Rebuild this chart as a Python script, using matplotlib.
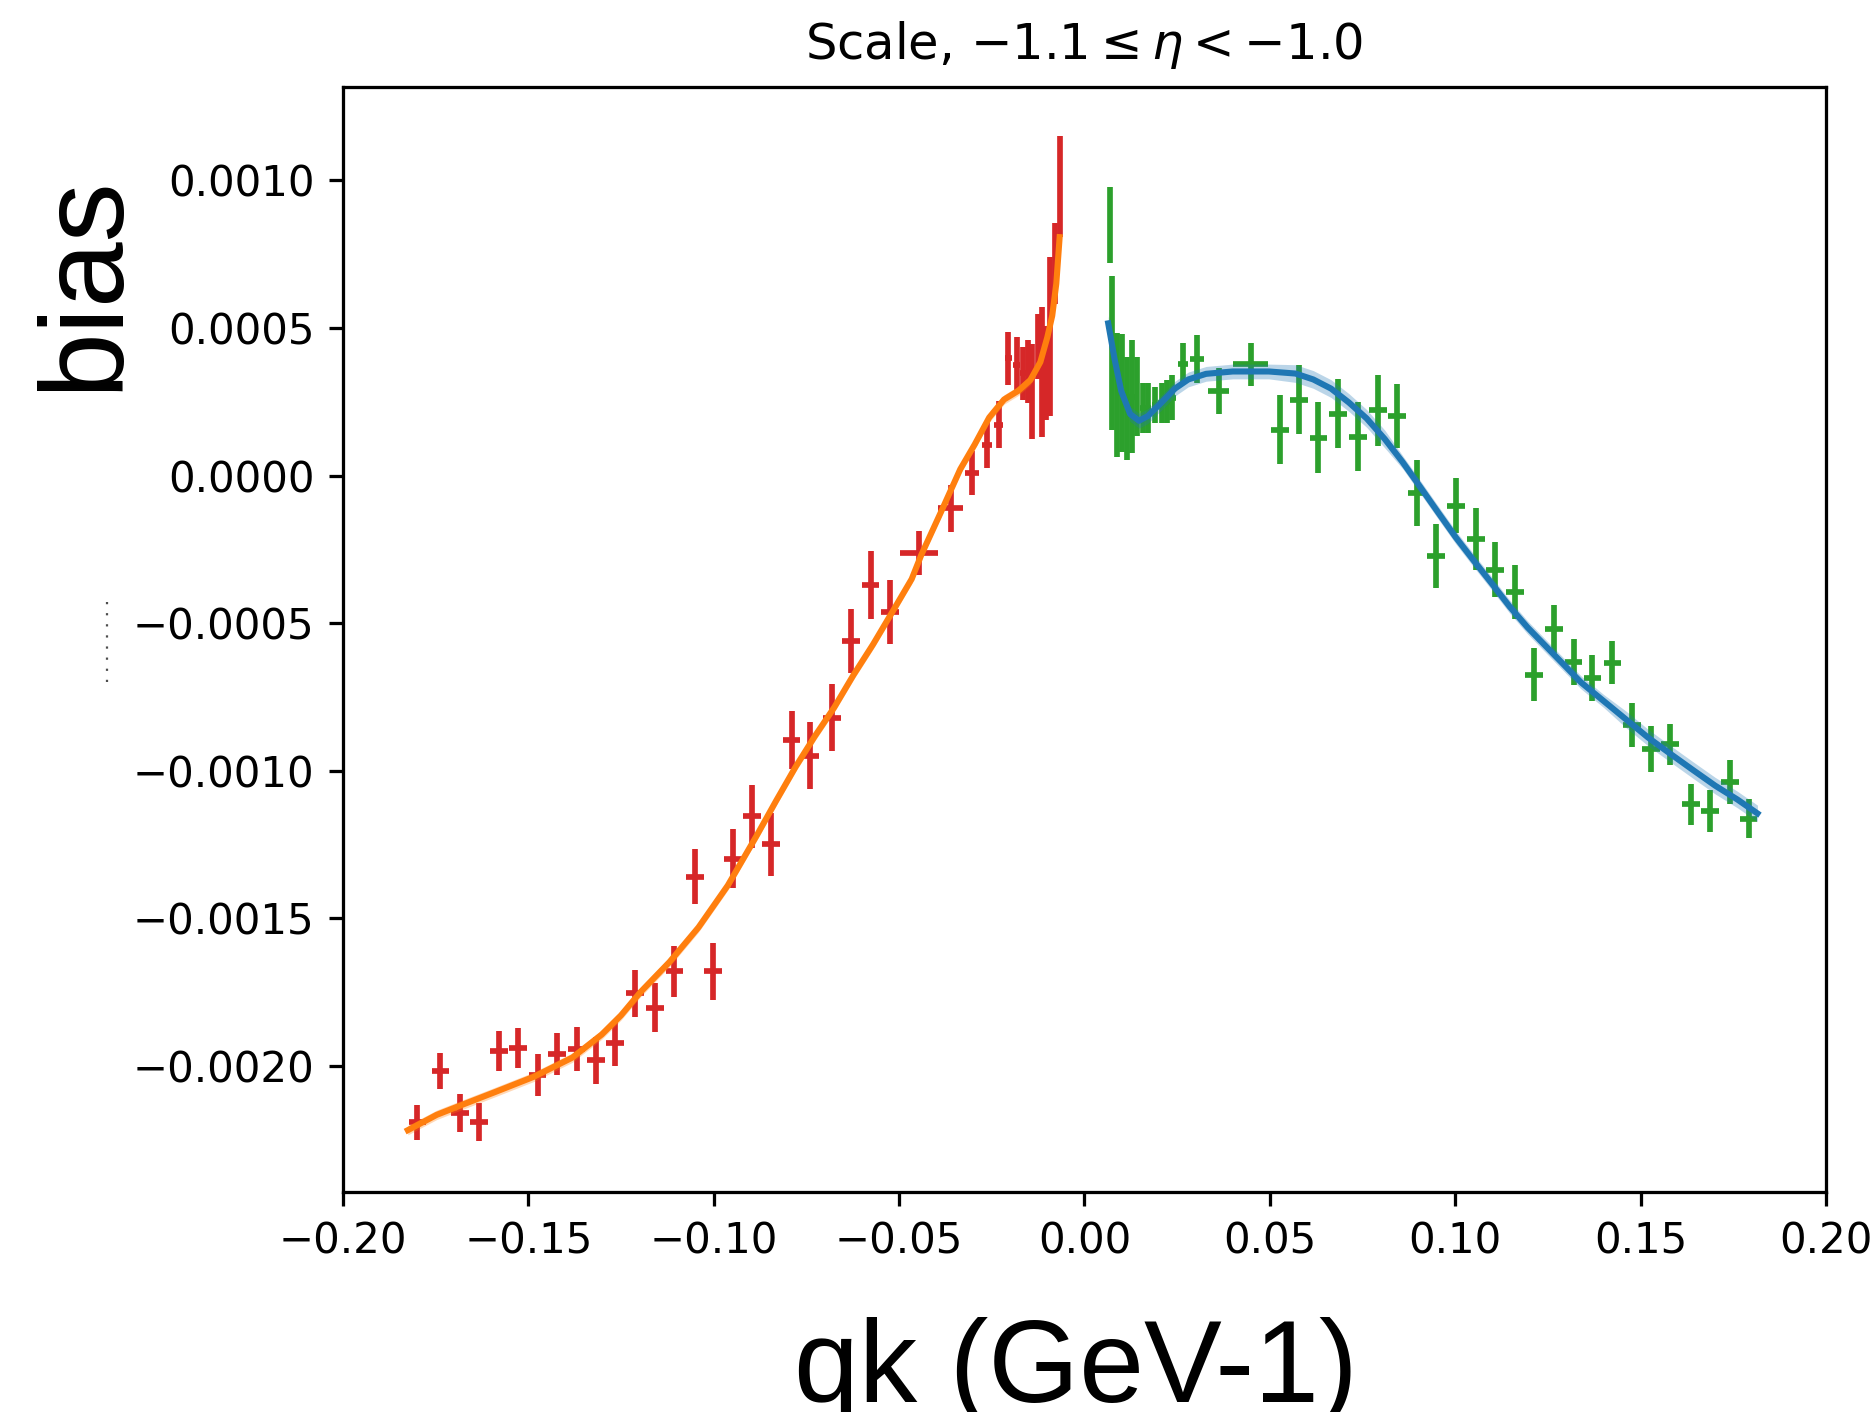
import matplotlib
matplotlib.use("Agg")
import matplotlib.pyplot as plt
from matplotlib.lines import Line2D
import numpy as np

# negative charge bins (red points)
neg_x = [-0.1799, -0.1737, -0.1684, -0.1632, -0.1579, -0.1527, -0.1475, -0.1422,
         -0.1370, -0.1318, -0.1266, -0.1213, -0.1158, -0.1106, -0.1051, -0.1002,
         -0.0949, -0.0897, -0.0845, -0.0790, -0.0740, -0.0681, -0.0629, -0.0577,
         -0.0525, -0.0446, -0.0361, -0.0303, -0.0263, -0.0231, -0.0205, -0.0183,
         -0.0165, -0.0151, -0.0141, -0.0126, -0.0115, -0.0105, -0.0093, -0.0080,
         -0.0066]
neg_y = [-0.002191, -0.002018, -0.002159, -0.002189, -0.001949, -0.001939, -0.002029, -0.001958,
         -0.001942, -0.001981, -0.001922, -0.001754, -0.001802, -0.001679, -0.001358, -0.001679,
         -0.001297, -0.001154, -0.001248, -0.000895, -0.000949, -0.000820, -0.000560, -0.000371,
         -0.000462, -0.000262, -0.000111, 0.000010, 0.000104, 0.000173, 0.000398, 0.000375,
         0.000347, 0.000352, 0.000285, 0.000437, 0.000352, 0.000347, 0.000471, 0.000719,
         0.000979]
neg_yerr = [5.8e-5, 6.1e-5, 6.5e-5, 6.5e-5, 6.8e-5, 6.8e-5, 7.1e-5, 7.1e-5,
            7.4e-5, 7.8e-5, 7.8e-5, 7.8e-5, 8.4e-5, 8.7e-5, 9.4e-5, 9.7e-5,
            1.0e-4, 1.07e-4, 1.07e-4, 9.7e-5, 1.13e-4, 1.13e-4, 1.07e-4, 1.15e-4,
            1.09e-4, 7.3e-5, 7.9e-5, 7.5e-5, 7.9e-5, 7.9e-5, 9.0e-5, 9.6e-5,
            9.0e-5, 1.07e-4, 1.6e-4, 1.1e-4, 2.2e-4, 1.6e-4, 2.7e-4, 1.36e-4,
            1.7e-4]
neg_xerr = [0.0024] * 25 + [0.0052, 0.0033, 0.0019, 0.0014, 0.0012, 0.0010, 0.0009,
                            0.0008, 0.0007, 0.0006, 0.0006, 0.0005, 0.0005, 0.0005, 0.0005,
                            0.0005]

# positive charge bins (green points)
pos_x = [0.0069, 0.0075, 0.0087, 0.0100, 0.0114, 0.0127, 0.0141, 0.0159,
         0.0172, 0.0190, 0.0208, 0.0222, 0.0235, 0.0265, 0.0304, 0.0362,
         0.0448, 0.0527, 0.0579, 0.0631, 0.0683, 0.0737, 0.0792, 0.0843,
         0.0896, 0.0948, 0.1002, 0.1057, 0.1108, 0.1161, 0.1213, 0.1267,
         0.1319, 0.1370, 0.1424, 0.1476, 0.1529, 0.1580, 0.1635, 0.1686,
         0.1740, 0.1791]
pos_y = [0.000849, 0.000415, 0.000273, 0.000279, 0.000228, 0.000268, 0.000268, 0.000228,
         0.000228, 0.000240, 0.000245, 0.000251, 0.000264, 0.000380, 0.000396, 0.000287,
         0.000377, 0.000155, 0.000258, 0.000129, 0.000210, 0.000132, 0.000222, 0.000202,
         -0.000058, -0.000273, -0.000102, -0.000213, -0.000319, -0.000394, -0.000674, -0.000518,
         -0.000630, -0.000685, -0.000633, -0.000845, -0.000926, -0.000910, -0.001113, -0.001136,
         -0.001038, -0.001162]
pos_yerr = [1.3e-4, 2.6e-4, 2.1e-4, 2.0e-4, 1.75e-4, 1.9e-4, 1.35e-4, 8.5e-5,
            8.5e-5, 6.2e-5, 6.8e-5, 7.3e-5, 7.7e-5, 7.0e-5, 8.1e-5, 7.8e-5,
            7.4e-5, 1.17e-4, 1.17e-4, 1.2e-4, 1.17e-4, 1.17e-4, 1.2e-4, 1.09e-4,
            1.12e-4, 1.09e-4, 9.3e-5, 1.05e-4, 9.3e-5, 9.0e-5, 9.0e-5, 8.1e-5,
            7.8e-5, 7.8e-5, 7.4e-5, 7.4e-5, 7.8e-5, 7.0e-5, 7.0e-5, 7.0e-5,
            7.4e-5, 6.7e-5]
pos_xerr = [0.0005, 0.0005, 0.0005, 0.0006, 0.0006, 0.0006, 0.0007, 0.0008,
            0.0008, 0.0009, 0.0009, 0.0010, 0.0011, 0.0014, 0.0019, 0.0028,
            0.0048] + [0.0024] * 25

# fitted curve for negative side (orange)
neg_fit_x = [-0.1825, -0.1747, -0.1668, -0.1590, -0.1485, -0.1381, -0.1302, -0.1250,
             -0.1198, -0.1119, -0.1041, -0.0962, -0.0884, -0.0832, -0.0779, -0.0727,
             -0.0675, -0.0623, -0.0570, -0.0518, -0.0466, -0.0440, -0.0387, -0.0335,
             -0.0296, -0.0257, -0.0217, -0.0178, -0.0146, -0.0119, -0.0100, -0.0087,
             -0.0076, -0.0067]
neg_fit_y = [-0.002217, -0.002165, -0.002126, -0.002088, -0.002036, -0.001971, -0.001893, -0.001828,
             -0.001750, -0.001647, -0.001530, -0.001388, -0.001219, -0.001102, -0.000986, -0.000882,
             -0.000785, -0.000675, -0.000571, -0.000461, -0.000350, -0.000268, -0.000123, 0.000022,
             0.000106, 0.000197, 0.000258, 0.000288, 0.000324, 0.000385, 0.000470, 0.000542,
             0.000651, 0.000808]
neg_fit_band = [1.6e-5] * 34

# fitted curve for positive side (blue)
pos_fit_x = [0.0064, 0.0081, 0.0099, 0.0123, 0.0147, 0.0171, 0.0208, 0.0244,
             0.0280, 0.0328, 0.0400, 0.0497, 0.0569, 0.0617, 0.0665, 0.0713,
             0.0761, 0.0810, 0.0858, 0.0906, 0.0954, 0.1002, 0.1050, 0.1099,
             0.1147, 0.1195, 0.1243, 0.1291, 0.1339, 0.1400, 0.1460, 0.1520,
             0.1580, 0.1640, 0.1701, 0.1761, 0.1815]
pos_fit_y = [0.000516, 0.000396, 0.000287, 0.000209, 0.000186, 0.000202, 0.000248, 0.000295,
             0.000326, 0.000345, 0.000353, 0.000353, 0.000346, 0.000326, 0.000295, 0.000248,
             0.000194, 0.000124, 0.000046, -0.000039, -0.000125, -0.000210, -0.000288, -0.000366,
             -0.000444, -0.000514, -0.000576, -0.000638, -0.000700, -0.000763, -0.000825, -0.000887,
             -0.000942, -0.000996, -0.001050, -0.001097, -0.001144]
pos_fit_band = [2.5e-5] * 12 + [3.0e-5] * 6 + [2.2e-5] * 12 + [2.8e-5] * 7

S = 292.8 / 200  # scale of the original default-sized figure

fig = plt.figure(figsize=(9.37, 7.06), dpi=200)
ax = fig.add_axes([0.1830, 0.1558, 0.7914, 0.7826])

ax.errorbar(neg_x, neg_y, yerr=neg_yerr, xerr=neg_xerr, fmt="none",
            ecolor="tab:red", elinewidth=1.4 * S, zorder=2)
ax.errorbar(pos_x, pos_y, yerr=pos_yerr, xerr=pos_xerr, fmt="none",
            ecolor="tab:green", elinewidth=1.4 * S, zorder=2)

nfx, nfy, nfb = np.array(neg_fit_x), np.array(neg_fit_y), np.array(neg_fit_band)
pfx, pfy, pfb = np.array(pos_fit_x), np.array(pos_fit_y), np.array(pos_fit_band)
ax.fill_between(nfx, nfy - nfb, nfy + nfb, color="tab:orange", alpha=0.3, lw=0, zorder=3)
ax.plot(nfx, nfy, color="tab:orange", lw=1.5 * S, zorder=4, solid_joinstyle="round")
ax.fill_between(pfx, pfy - pfb, pfy + pfb, color="tab:blue", alpha=0.3, lw=0, zorder=3)
ax.plot(pfx, pfy, color="tab:blue", lw=1.5 * S, zorder=4, solid_joinstyle="round")

ax.set_xlim(-0.2, 0.2)
ax.set_ylim(-0.0024265, 0.0013167)
ax.set_xticks(np.arange(-0.2, 0.2001, 0.05))
ax.set_yticks(np.arange(-0.002, 0.00101, 0.0005))
ax.tick_params(labelsize=10.3 * S, length=3.5 * S, width=0.8 * S, pad=3.5 * S)
for sp in ax.spines.values():
    sp.set_linewidth(0.8 * S)

ax.set_title(r"Scale, $-1.1 \leq \eta < -1.0$", fontsize=12.2 * S, pad=7 * S)

# big overlaid axis labels
fig.text(116 / 1874, 1 - 283 / 1412, "bias", rotation=90, rotation_mode="anchor",
         ha="center", va="baseline", fontsize=42.5, family="Liberation Sans")
fig.text(1075.5 / 1874, 1 - 1402 / 1412, "qk (GeV-1)", ha="center", va="baseline",
         fontsize=42, family="Liberation Sans")

# leftover dotted remnant of the original small y label
fig.add_artist(Line2D([106.7 / 1874, 106.7 / 1874], [1 - 602 / 1412, 1 - 682 / 1412],
                      transform=fig.transFigure, color="0.3", lw=0.8, ls=(0, (1, 4))))

fig.savefig("out.png", dpi=200)
